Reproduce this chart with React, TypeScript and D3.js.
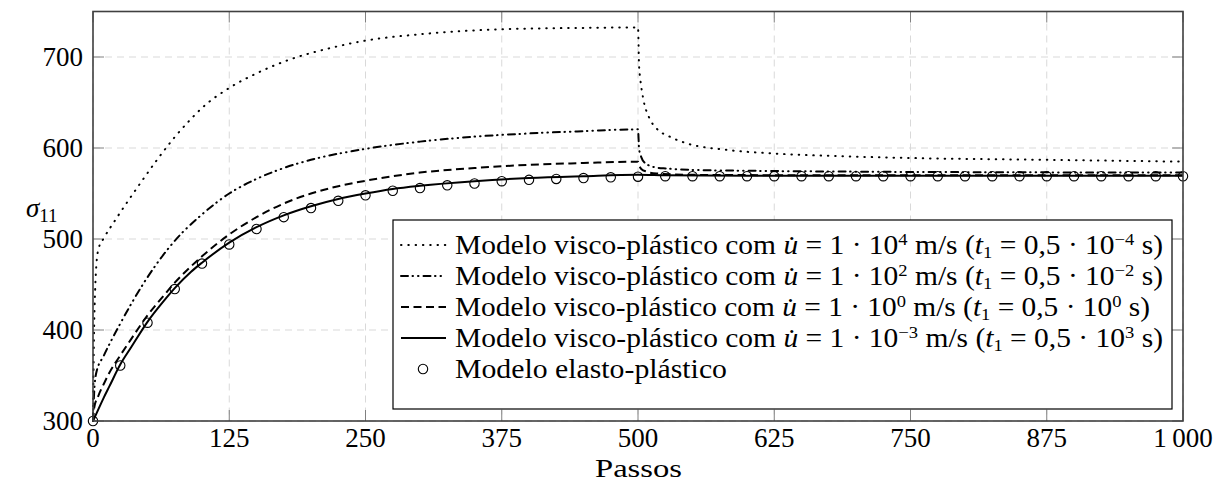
import * as d3 from "d3";

// Passos / sigma_11
const solidSteps = [0, 5, 10, 15, 25, 35, 50, 65, 75, 90, 100, 125, 150, 175, 200, 225, 250, 275, 300, 350, 400, 450, 500, 525, 600, 1000];
const solidVals = [300, 313, 326, 338, 362, 381, 409, 432, 446, 464, 474, 496, 513, 526, 536, 544, 550, 555, 558.5, 563.5, 567, 569, 570.5, 570, 569.5, 569.5];

const dashedSteps = [0, 1, 5, 10, 15, 25, 35, 50, 65, 75, 90, 100, 125, 150, 175, 200, 225, 250, 275, 300, 350, 400, 450, 500, 501, 503, 508, 517, 550, 700, 1000];
const dashedVals = [300, 314, 328, 341, 353, 372, 390, 416, 438, 452, 470, 481, 505, 524, 539, 550, 558, 564, 569, 573, 578, 581.5, 583.5, 585, 581, 577, 574, 572, 570.5, 570, 570];

const dashdotSteps = [0, 1, 3, 10, 25, 50, 75, 100, 125, 150, 175, 200, 250, 300, 350, 400, 450, 500, 501, 503, 507, 517, 526, 554, 600, 700, 850, 1000];
const dashdotVals = [300, 330, 353, 372, 407, 458, 498, 527, 550, 566, 578, 587, 599, 607, 612.5, 616, 618.5, 620.5, 599, 590, 583, 578.5, 577.5, 575.8, 575, 574, 573.3, 573];

const dottedSteps = [0, 1, 2, 3, 5, 10, 20, 30, 45, 60, 75, 90, 100, 125, 150, 180, 215, 250, 300, 375, 450, 500, 501, 502, 505, 510, 517, 529, 545, 581, 624, 700, 750, 875, 1000];
const dottedVals = [300, 400, 445, 470, 489, 501, 520, 538, 564, 589, 612, 632, 644, 666, 682, 697, 709, 718, 725, 730.5, 732, 732.5, 690, 677, 653, 634, 621.5, 612.5, 605, 598, 594, 590.5, 589, 587, 585];

const circleSteps = d3.range(0, 1001, 25);
const circleVals = [300, 361, 408, 445, 473, 494, 511, 524, 534, 542, 548, 553, 556, 559, 561, 563.5, 565, 566, 567, 567.8, 568.5,
  569, 569, 569, 569, 569, 569, 569, 569, 569, 569, 569, 569, 569, 569, 569, 569, 569, 569, 569, 569];

const xTicks = [0, 125, 250, 375, 500, 625, 750, 875, 1000];
const xTickLabels = ["0", "125", "250", "375", "500", "625", "750", "875", "1\u2009000"];
const yTicks = [300, 400, 500, 600, 700];

const rateExp = ["4", "2", "0", "\u22123"];
const t1Exp = ["\u22124", "\u22122", "0", "3"];

const W = 1223;
const H = 483;
const left = 93, right = 1183, top = 11.5, bottom = 421;
const font = "Liberation Serif, DejaVu Serif, serif";

const styles = [
  { dash: "0.5 6.8", cap: "round" },
  { dash: "7 4.5 0.5 5 0.5 5", cap: "round" },
  { dash: "8 4.5", cap: "butt" },
  { dash: "none", cap: "butt" },
];

export default function App() {
  const x = d3.scaleLinear().domain([0, 1000]).range([left, right]);
  const y = d3.scaleLinear().domain([300, 750]).range([bottom, top]);

  const line = d3
    .line<[number, number]>()
    .x((d) => x(d[0]))
    .y((d) => y(d[1]))
    .curve(d3.curveMonotoneX);

  const series = [
    d3.zip(dottedSteps, dottedVals),
    d3.zip(dashdotSteps, dashdotVals),
    d3.zip(dashedSteps, dashedVals),
    d3.zip(solidSteps, solidVals),
  ] as [number, number][][];

  const legTop = 245;
  const legStep = 31;

  return (
    <svg
      width={W}
      height={H}
      style={{ position: "absolute", left: 0, top: 0, background: "#fff", fontFamily: font }}
    >
      {/* grid */}
      {xTicks.map((t) => (
        <line key={"gx" + t} x1={x(t)} x2={x(t)} y1={top} y2={bottom} stroke="#d9d9d9" strokeDasharray="7 5" />
      ))}
      {yTicks.map((t) => (
        <line key={"gy" + t} x1={left} x2={right} y1={y(t)} y2={y(t)} stroke="#d9d9d9" strokeDasharray="7 5" />
      ))}

      {/* ticks, inside on all sides */}
      {xTicks.map((t) => (
        <g key={"tx" + t} stroke="#808080" strokeWidth={1}>
          <line x1={x(t)} x2={x(t)} y1={bottom} y2={bottom - 11} />
          <line x1={x(t)} x2={x(t)} y1={top} y2={top + 11} />
        </g>
      ))}
      {yTicks.map((t) => (
        <g key={"ty" + t} stroke="#808080" strokeWidth={1}>
          <line x1={left} x2={left + 11} y1={y(t)} y2={y(t)} />
          <line x1={right} x2={right - 11} y1={y(t)} y2={y(t)} />
        </g>
      ))}

      {/* curves */}
      {series.map((s, i) => (
        <path
          key={"s" + i}
          d={line(s) ?? ""}
          fill="none"
          stroke="#000"
          strokeWidth={2}
          strokeDasharray={styles[i].dash}
          strokeLinecap={styles[i].cap as any}
        />
      ))}
      {circleSteps.map((s, i) => (
        <circle key={"c" + s} cx={x(s)} cy={y(circleVals[i])} r={4.7} fill="none" stroke="#000" strokeWidth={1.1} />
      ))}

      {/* frame */}
      <rect x={left} y={top} width={right - left} height={bottom - top} fill="none" stroke="#404040" strokeWidth={1.6} />

      {/* tick labels */}
      {xTicks.map((t, i) => (
        <text key={"lx" + t} x={x(t)} y={bottom + 26} fontSize={27} textAnchor="middle">
          {xTickLabels[i]}
        </text>
      ))}
      {yTicks.map((t) => (
        <text key={"ly" + t} x={left - 10} y={y(t) + 9} fontSize={27} textAnchor="end">
          {t}
        </text>
      ))}

      <text x={595} y={477} fontSize={25} textLength={87} lengthAdjust="spacingAndGlyphs">Passos</text>
      <text x={26} y={217} fontSize={27}>
        <tspan fontStyle="italic">σ</tspan>
        <tspan fontSize={19} dy={5}>11</tspan>
      </text>

      {/* legend */}
      <rect x={393} y={220} width={779} height={189} fill="#fff" stroke="#000" strokeWidth={1.2} />
      {rateExp.map((e, i) => {
        const cy = legTop + i * legStep;
        return (
          <g key={"leg" + i}>
            <line x1={401} x2={446} y1={cy} y2={cy} stroke="#000" strokeWidth={2}
              strokeDasharray={styles[i].dash} strokeLinecap={styles[i].cap as any} />
            <text x={455} y={cy + 9} fontSize={27} textLength={e === "0" ? 695 : 708} lengthAdjust="spacingAndGlyphs">
              <tspan>Modelo visco-plástico com </tspan>
              <tspan fontStyle="italic">u&#x307;</tspan>
              <tspan> = 1 · 10</tspan>
              <tspan fontSize={17} dy={-9}>{e}</tspan>
              <tspan dy={9}> m/s (</tspan>
              <tspan fontStyle="italic">t</tspan>
              <tspan fontSize={17} dy={4}>1</tspan>
              <tspan dy={-4}> = 0,5 · 10</tspan>
              <tspan fontSize={17} dy={-9}>{t1Exp[i]}</tspan>
              <tspan dy={9}> s)</tspan>
            </text>
          </g>
        );
      })}
      <circle cx={423} cy={legTop + 4 * legStep} r={4.7} fill="none" stroke="#000" strokeWidth={1.1} />
      <text x={455} y={legTop + 4 * legStep + 9} fontSize={27} textLength={272} lengthAdjust="spacingAndGlyphs">
        Modelo elasto-plástico
      </text>
    </svg>
  );
}
